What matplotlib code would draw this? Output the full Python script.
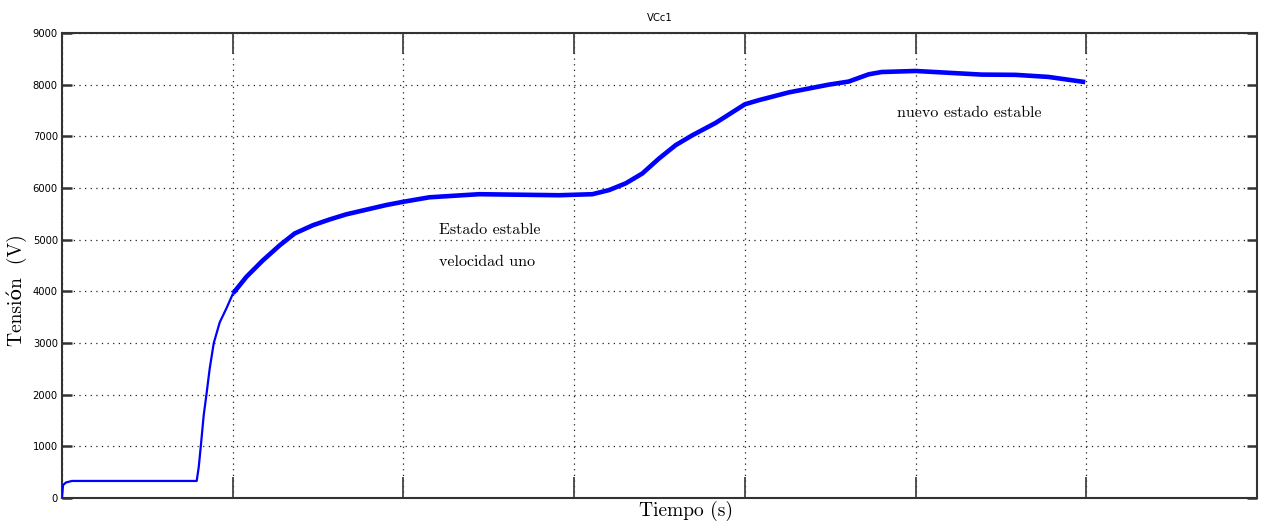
import matplotlib
matplotlib.use("Agg")
import matplotlib.pyplot as plt
from matplotlib import font_manager

# Capacitor voltage VCc1 over time
tiempo = [0.000, 0.006, 0.023, 0.058, 0.789, 0.801, 0.813, 0.830, 0.846, 0.865,
          0.889, 0.924, 0.963, 1.002, 1.080, 1.177, 1.275, 1.363, 1.470, 1.567,
          1.665, 1.782, 1.899, 1.994, 2.152, 2.345, 2.444, 2.912, 3.107, 3.205,
          3.302, 3.399, 3.497, 3.595, 3.692, 3.829, 4.000, 4.082, 4.257, 4.491,
          4.608, 4.725, 4.801, 5.000, 5.193, 5.386, 5.585, 5.778, 5.971, 5.994]
tension = [0, 250, 300, 330, 330, 600, 1000, 1600, 2000, 2500,
           3000, 3400, 3670, 3960, 4280, 4600, 4890, 5120, 5280, 5390,
           5490, 5580, 5670, 5730, 5820, 5860, 5880, 5860, 5880, 5960,
           6090, 6280, 6570, 6830, 7020, 7260, 7620, 7700, 7850, 8000,
           8060, 8200, 8245, 8265, 8230, 8195, 8190, 8150, 8060, 8050]

y_ticks = [0, 1000, 2000, 3000, 4000, 5000, 6000, 7000, 8000, 9000]
x_ticks = [0, 1, 2, 3, 4, 5, 6, 7]

serif = ["cmr10", "DejaVu Serif"]

# pick a narrow sans face for tick labels when one is available
names = {f.name for f in font_manager.fontManager.ttflist}
if "Liberation Sans Narrow" in names:
    tick_kw = dict(family="Liberation Sans Narrow", fontsize=10)
else:
    tick_kw = dict(family="DejaVu Sans", fontstretch="condensed", fontsize=8)

fig = plt.figure(figsize=(12.62, 5.25), dpi=100)
ax = fig.add_axes([62 / 1262, 27 / 525, 1195 / 1262, 465 / 525])

# thin initial segment, thicker noisy band after the rise
n_thin = 14
ax.plot(tiempo[:n_thin], tension[:n_thin], color="#0000ff", lw=1.6,
        solid_capstyle="butt", zorder=3)
ax.plot(tiempo[n_thin - 1:], tension[n_thin - 1:], color="#0000ff", lw=3.3,
        solid_capstyle="butt", zorder=3)

ax.set_xlim(0, 7)
ax.set_ylim(0, 9000)
ax.set_xticks(x_ticks)
ax.set_xticklabels([])
ax.set_yticks(y_ticks)
ax.set_yticklabels([str(v) for v in y_ticks], **tick_kw)

ax.grid(True, color="#222222", linestyle=(0, (1, 3.5)), lw=0.9)
ax.tick_params(axis="x", direction="in", length=15, width=1.3, color="#444444",
               top=True, bottom=True)
ax.tick_params(axis="y", direction="in", length=7.5, width=1.8, color="#333333",
               left=True, right=True, pad=3)
for sp in ax.spines.values():
    sp.set_color("#333333")
    sp.set_linewidth(1.5)

ax.set_title("VCc1", pad=9, **tick_kw)

fig.text(17 / 1262, 1 - 290 / 525, "Tensión  (V)", rotation=90, family=serif,
         fontsize=14, ha="center", va="center")
fig.text(686 / 1262, 1 - 511 / 525, "Tiempo (s)", family=serif, fontsize=14,
         ha="center", va="center")

ax.text(2.21, 5184, "Estado estable", family=serif, fontsize=11.5,
        ha="left", va="center")
ax.text(2.21, 4565, "velocidad uno", family=serif, fontsize=11.5,
        ha="left", va="center")
ax.text(4.889, 7447, "nuevo estado estable", family=serif, fontsize=11.5,
        ha="left", va="center")

fig.savefig("out.png", dpi=100)
